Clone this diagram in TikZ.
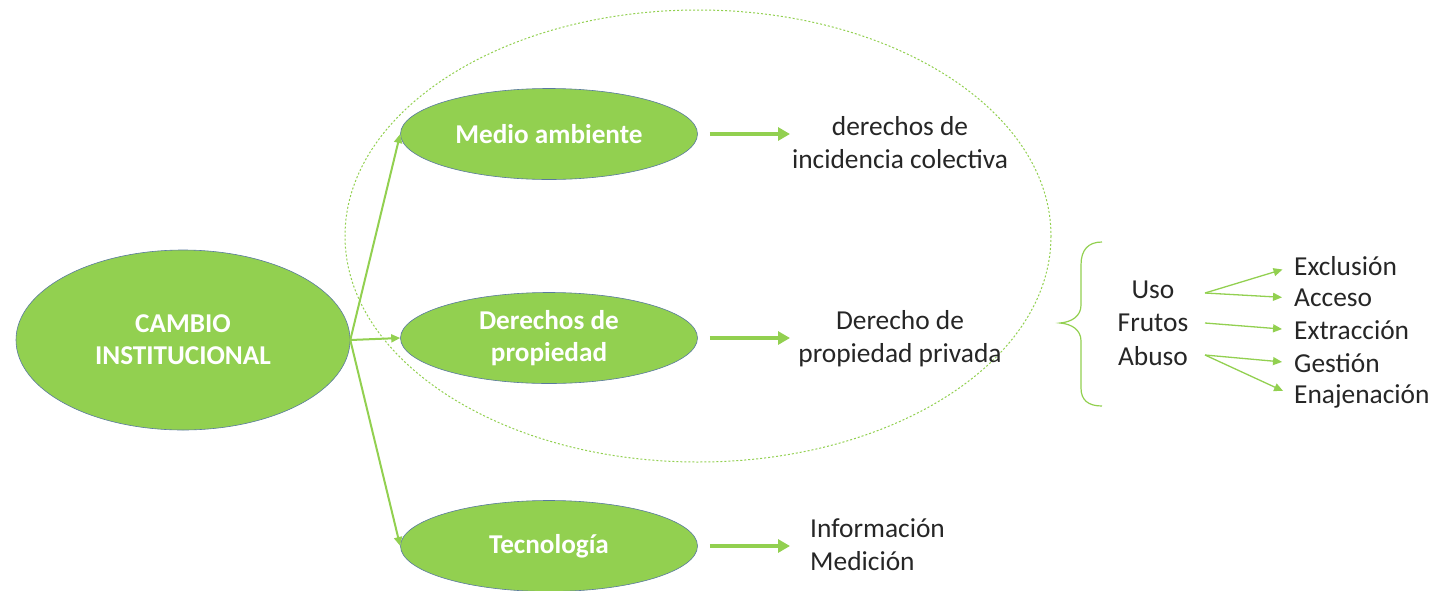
\documentclass[tikz,border=0pt]{standalone}
\usepackage{fontspec}
\setmainfont{Carlito}
\usetikzlibrary{shapes.geometric,arrows.meta}
\definecolor{lgreen}{HTML}{92D050}
\definecolor{edge}{HTML}{5A7A9E}
\tikzset{
  ell/.style={ellipse, fill=lgreen, draw=edge, line width=0.6pt, inner sep=0pt,
    text=white, font=\fontsize{27.2}{32}\selectfont\bfseries, align=center},
  txt/.style={font=\fontsize{27.4}{33}\selectfont, text=black!85, inner sep=0pt},
  thin arr/.style={draw=lgreen, line width=2pt, -{Triangle[length=9pt,width=8pt]}},
  thick arr/.style={draw=lgreen, line width=3.5pt, -{Triangle[length=12pt,width=13pt]}},
  small arr/.style={draw=lgreen, line width=1.3pt, -{Triangle[length=9pt,width=8pt]}},
}
\begin{document}
\begin{tikzpicture}[x=1pt,y=-1pt]
\useasboundingbox (0,0) rectangle (1435,590);
% big dashed ellipse
\draw[lgreen, line width=1pt, dash pattern=on 2pt off 2pt] (698,236) ellipse [x radius=353, y radius=226];
% main ellipses
\node[ell, minimum width=334, minimum height=180] (cambio) at (183,340) {CAMBIO\\INSTITUCIONAL};
\node[ell, minimum width=297, minimum height=91] (medio) at (549,134) {Medio ambiente};
\node[ell, minimum width=297, minimum height=91] (dprop) at (549,338) {Derechos de\\propiedad};
\node[ell, minimum width=297, minimum height=91] (tecno) at (549,546) {Tecnología};
% texts
\node[txt, align=center] (dinc) at (900,143) {derechos de\\incidencia colectiva};
\node[txt, align=center] (dpriv) at (900,339) {Derecho de\\propiedad privada};
\node[txt, align=left, anchor=west] (info) at (810,545) {Información\\Medición};
\node[txt] (uso) at (1153,290) {Uso};
\node[txt] (frutos) at (1153,323) {Frutos};
\node[txt] (abuso) at (1153,356) {Abuso};
\node[txt, anchor=west] (excl) at (1294,266) {Exclusión};
\node[txt, anchor=west] (acc) at (1294,298) {Acceso};
\node[txt, anchor=west] (extr) at (1294,330) {Extracción};
\node[txt, anchor=west] (gest) at (1294,363) {Gestión};
\node[txt, anchor=west] (enaj) at (1294,396) {Enajenación};
% connectors from cambio
\draw[thin arr] (cambio.east) -- (medio.west);
\draw[thin arr] (cambio.east) -- (dprop.west);
\draw[thin arr] (cambio.east) -- (tecno.west);
% thick arrows
\draw[thick arr, shorten <=12pt] (medio.east) -- (medio.east -| 790,0);
\draw[thick arr, shorten <=12pt] (dprop.east) -- (dprop.east -| 790,0);
\draw[thick arr, shorten <=12pt] (tecno.east) -- (tecno.east -| 790,0);
% brace
\draw[lgreen, line width=1.2pt] (1102,242) .. controls (1088,242) and (1081,250) .. (1081,265)
  -- (1081,305) .. controls (1081,316) and (1072,322) .. (1060,323)
  .. controls (1072,324) and (1081,330) .. (1081,341)
  -- (1081,388) .. controls (1081,400) and (1088,406) .. (1102,406);
% small arrows
\coordinate (uo) at (1205,293);
\coordinate (fo) at (1205,323);
\coordinate (ao) at (1205,355);
\draw[small arr, shorten >=12pt] (uo) -- (excl.west);
\draw[small arr, shorten >=12pt] (uo) -- (acc.west);
\draw[small arr, shorten >=12pt] (fo) -- (extr.west);
\draw[small arr, shorten >=12pt] (ao) -- (gest.west);
\draw[small arr, shorten >=12pt] (ao) -- (enaj.west);
\end{tikzpicture}
\end{document}
